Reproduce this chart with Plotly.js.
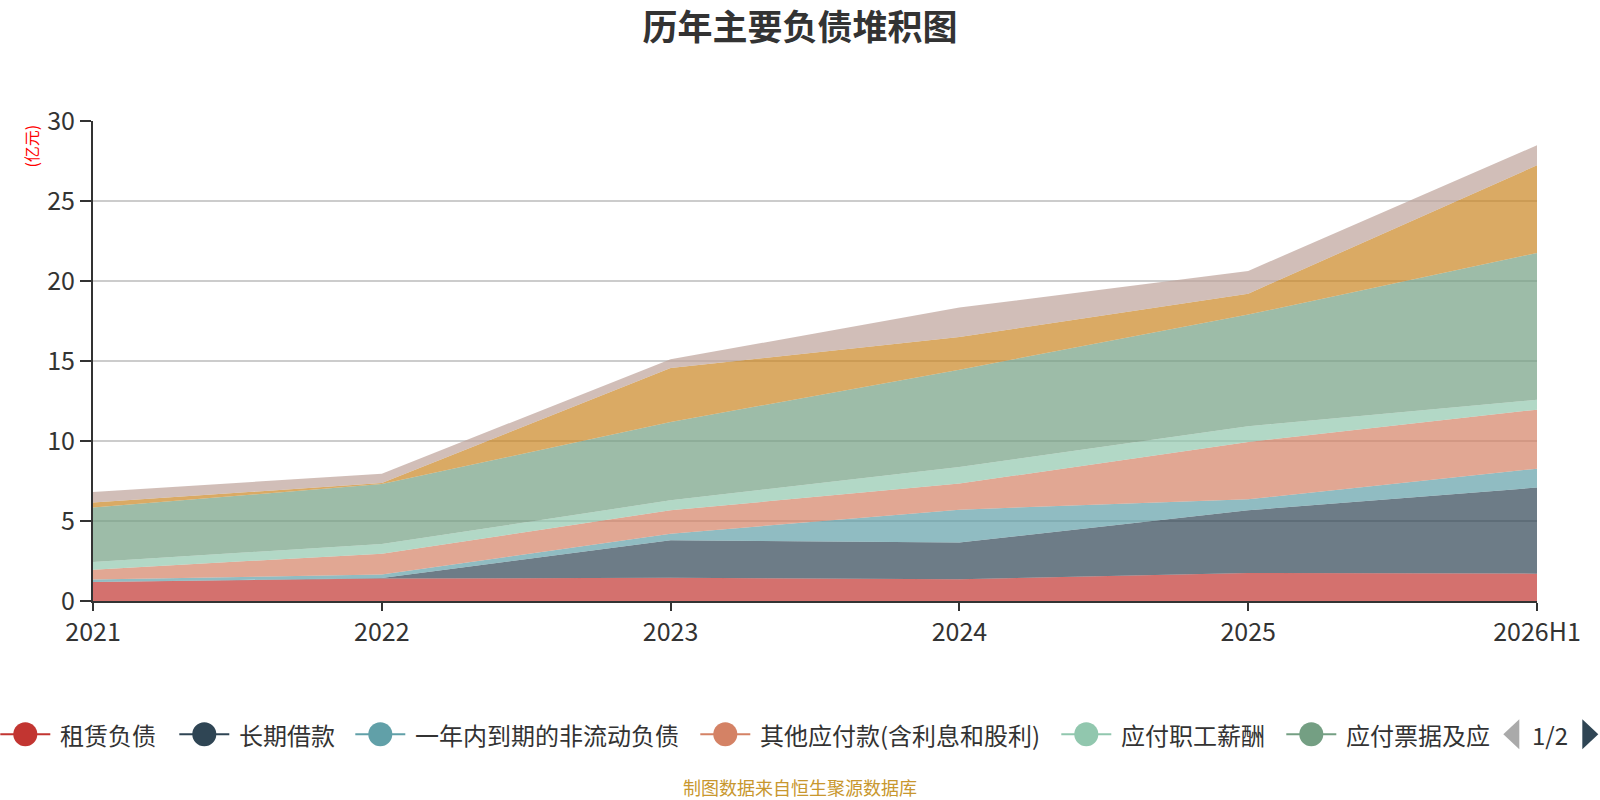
<!DOCTYPE html>
<html>
<head>
<meta charset="utf-8">
<script src="https://cdn.plot.ly/plotly-3.0.1.min.js"></script>
<style>
  body { margin: 0; background: #fff; }
  #chart { width: 1600px; height: 800px; }
</style>
</head>
<body>
<div id="chart"></div>
<script>
// categories on the x axis
var years = ["2021", "2022", "2023", "2024", "2025", "2026H1"];

// each liability item, in 亿元 (bottom to top)
var zulinFuzhai   = [1.19, 1.40, 1.46, 1.36, 1.75, 1.71];   // 租赁负债
var changqiJiekuan = [0.00, 0.04, 2.33, 2.29, 3.92, 5.38];  // 长期借款
var yinianNeiDaoqi = [0.15, 0.21, 0.42, 2.06, 0.69, 1.18];  // 一年内到期的非流动负债
var qitaYingfu    = [0.62, 1.31, 1.46, 1.63, 3.58, 3.69];   // 其他应付款(含利息和股利)
var zhigongXinchou = [0.48, 0.60, 0.62, 1.04, 0.98, 0.62];  // 应付职工薪酬
var piaojuZhangkuan = [3.40, 3.75, 4.90, 6.08, 6.98, 9.17]; // 应付票据及应付账款
var hetongFuzhai  = [0.31, 0.07, 3.37, 2.04, 1.31, 5.48];   // 合同负债
var yingjiaoShuifei = [0.66, 0.58, 0.55, 1.84, 1.42, 1.25]; // 应交税费

var seriesNames = ["租赁负债", "长期借款", "一年内到期的非流动负债", "其他应付款(含利息和股利)",
                   "应付职工薪酬", "应付票据及应付账款", "合同负债", "应交税费"];
var seriesValues = [zulinFuzhai, changqiJiekuan, yinianNeiDaoqi, qitaYingfu,
                    zhigongXinchou, piaojuZhangkuan, hetongFuzhai, yingjiaoShuifei];

// legend page 1 labels (last one is cut off in the original)
var legendLabels = ["租赁负债", "长期借款", "一年内到期的非流动负债", "其他应付款(含利息和股利)",
                    "应付职工薪酬", "应付票据及应"];

var palette = ["194,53,49", "47,69,84", "97,160,168", "212,130,101",
               "145,199,174", "116,159,131", "202,134,34", "189,162,154"];

var FONT = "Noto Sans CJK SC, Noto Sans, sans-serif";

// plot box in pixels
var L = 92.7, R = 1536.7, T = 120.7, B = 600.7;
function px(x) { return (x - L) / (R - L); }
function py(y) { return (B - y) / (B - T); }

var data = [];
for (var i = 0; i < seriesNames.length; i++) {
  data.push({
    type: "scatter",
    x: years,
    y: seriesValues[i],
    name: seriesNames[i],
    stackgroup: "one",
    mode: "none",
    fillcolor: "rgba(" + palette[i] + ",0.7)",
    hoveron: "points",
    showlegend: false
  });
}

// hand drawn legend, page 1 of 2
var legendLeft = [0, 179, 355, 700, 1061, 1286];
var legendY = 734;
var shapes = [];
var annotations = [];
for (var j = 0; j < legendLabels.length; j++) {
  var x0 = legendLeft[j];
  var col = "rgb(" + palette[j] + ")";
  shapes.push({
    type: "line", xref: "paper", yref: "paper",
    x0: px(x0), x1: px(x0 + 50), y0: py(legendY), y1: py(legendY),
    line: { color: col, width: 2 }
  });
  shapes.push({
    type: "circle", xref: "paper", yref: "paper",
    x0: px(x0 + 13), x1: px(x0 + 37), y0: py(legendY - 12), y1: py(legendY + 12),
    fillcolor: col, line: { color: col, width: 0 }
  });
  annotations.push({
    xref: "paper", yref: "paper", x: px(x0 + 58), y: py(legendY),
    xanchor: "left", yanchor: "middle", showarrow: false,
    text: legendLabels[j], font: { family: FONT, size: 24, color: "#333" }
  });
}

// page arrows
shapes.push({
  type: "path", xref: "paper", yref: "paper",
  path: "M " + px(1503) + " " + py(legendY) + " L " + px(1519) + " " + py(legendY - 15) +
        " L " + px(1519) + " " + py(legendY + 15) + " Z",
  fillcolor: "#aaaaaa", line: { width: 0 }
});
shapes.push({
  type: "path", xref: "paper", yref: "paper",
  path: "M " + px(1598) + " " + py(legendY) + " L " + px(1582) + " " + py(legendY - 15) +
        " L " + px(1582) + " " + py(legendY + 15) + " Z",
  fillcolor: "#2f4554", line: { width: 0 }
});
annotations.push({
  xref: "paper", yref: "paper", x: px(1550), y: py(legendY),
  xanchor: "center", yanchor: "middle", showarrow: false,
  text: "1/2", font: { family: FONT, size: 24, color: "#333" }
});

// unit label
annotations.push({
  xref: "paper", yref: "paper", x: px(31), y: py(146),
  xanchor: "center", yanchor: "middle", showarrow: false, textangle: -90,
  text: "(亿元)", font: { family: FONT, size: 16, color: "#ff0000" }
});

// source note
annotations.push({
  xref: "paper", yref: "paper", x: px(800), y: py(787),
  xanchor: "center", yanchor: "middle", showarrow: false,
  text: "制图数据来自恒生聚源数据库", font: { family: FONT, size: 18, color: "#c8972e" }
});

var layout = {
  width: 1600,
  height: 800,
  paper_bgcolor: "#fff",
  plot_bgcolor: "#fff",
  showlegend: false,
  margin: { l: L, r: 1600 - R, t: T, b: 800 - B, pad: 0 },
  title: {
    text: "<b>历年主要负债堆积图</b>",
    x: 0.5, xanchor: "center",
    y: 1 - 28 / 800, yanchor: "middle",
    font: { family: FONT, size: 35, color: "#333" }
  },
  xaxis: {
    type: "category",
    range: [0, 5],
    showgrid: false,
    zeroline: false,
    showline: true, linecolor: "#333", linewidth: 2,
    ticks: "outside", ticklen: 8, tickwidth: 2, tickcolor: "#333",
    tickfont: { family: FONT, size: 25, color: "#333" }
  },
  yaxis: {
    range: [0, 30],
    dtick: 5,
    showgrid: true, gridcolor: "#cccccc", gridwidth: 1.5,
    zeroline: false,
    showline: true, linecolor: "#333", linewidth: 2,
    ticks: "outside", ticklen: 11, tickwidth: 2, tickcolor: "#333",
    tickfont: { family: FONT, size: 25, color: "#333" }
  },
  shapes: shapes,
  annotations: annotations
};

Plotly.newPlot("chart", data, layout, { displayModeBar: false, staticPlot: true });
</script>
</body>
</html>
